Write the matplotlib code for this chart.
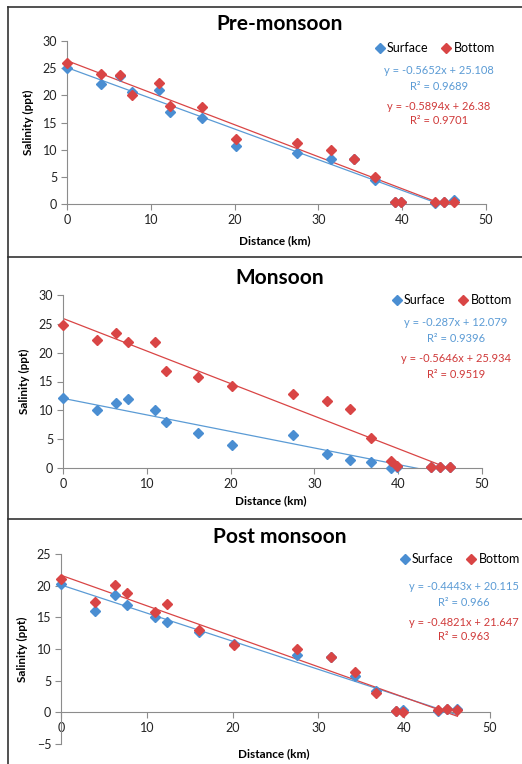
import matplotlib
matplotlib.use("Agg")
import matplotlib.pyplot as plt
import numpy as np
from matplotlib.lines import Line2D

plt.rcParams['font.family'] = ['Lato', 'DejaVu Sans']

W, H = 522, 764

distance = [0, 4, 6.3, 7.7, 11, 12.3, 16.1, 20.2, 27.5, 31.5, 34.3, 36.7, 39.1, 39.9, 43.9, 45.0, 46.2]

pre_surface = [25.0, 22.0, 23.6, 20.7, 20.9, 16.9, 15.8, 10.6, 9.3, 8.3, 8.2, 4.5, 0.4, 0.4, 0.2, 0.3, 0.8]
pre_bottom = [26.0, 24.0, 23.7, 20.1, 22.2, 18.1, 17.8, 12.0, 11.3, 9.9, 8.3, 5.0, 0.4, 0.4, 0.4, 0.3, 0.4]

mon_surface = [12.1, 10.1, 11.2, 12.0, 10.0, 8.0, 6.0, 4.0, 5.8, 2.5, 1.4, 1.1, 0.0, 0.2, 0.1, 0.1, 0.1]
mon_bottom = [24.8, 22.2, 23.4, 21.8, 21.8, 16.9, 15.7, 14.2, 12.9, 11.7, 10.3, 5.2, 1.3, 0.4, 0.1, 0.1, 0.1]

post_surface = [20.3, 16.0, 18.5, 17.0, 15.1, 14.2, 12.7, 10.8, 9.1, 8.7, 5.7, 3.4, 0.2, 0.4, 0.2, 0.5, 0.6]
post_bottom = [21.1, 17.4, 20.1, 18.8, 15.8, 17.1, 13.0, 10.7, 10.0, 8.7, 6.3, 3.0, 0.2, 0.1, 0.3, 0.5, 0.4]

# trendline (slope, intercept, r2) as printed on the chart
fits = {
    "Pre-monsoon": [(-0.5652, 25.108, "0.9689"), (-0.5894, 26.38, "0.9701")],
    "Monsoon": [(-0.287, 12.079, "0.9396"), (-0.5646, 25.934, "0.9519")],
    "Post monsoon": [(-0.4443, 20.115, "0.966"), (-0.4821, 21.647, "0.963")],
}

blue = "#4A8ED2"
red = "#D94545"
blue_txt = "#5B9BD5"
red_txt = "#D03A3A"

panels = [
    # title, surface, bottom, axes px (l, r, top, bottom), ylim, yticks, title y, legend y, eq x, eq y, ylabel x, xlabel y
    ("Pre-monsoon", pre_surface, pre_bottom, (67, 486, 41, 204), (0, 30), range(0, 31, 5), 24, 48, 439, 70, 28, 241),
    ("Monsoon", mon_surface, mon_bottom, (63, 482, 295, 468), (0, 30), range(0, 31, 5), 278, 300, 456, 323, 24, 501),
    ("Post monsoon", post_surface, post_bottom, (61, 490, 554, 744), (-5, 25), range(-5, 26, 5), 537, 559, 464, 586, 22, 754),
]

fig = plt.figure(figsize=(W / 100, H / 100), dpi=100)

# panel frames
for y in [7, 257, 519]:
    fig.add_artist(Line2D([8 / W, 1], [1 - y / H, 1 - y / H], color="#333333", lw=1.2))
fig.add_artist(Line2D([8 / W, 8 / W], [0, 1 - 7 / H], color="#333333", lw=1.2))

x = np.array(distance)
for (title, surf, bott, box, ylim, yticks, ty, ly, ex, ey, ylx, xly) in panels:
    l, r, t, b = box
    ax = fig.add_axes([l / W, 1 - b / H, (r - l) / W, (b - t) / H])
    ax.set_xlim(0, 50)
    ax.set_ylim(*ylim)
    ax.set_xticks(range(0, 51, 10))
    ax.set_yticks(list(yticks))
    for s in ["top", "right"]:
        ax.spines[s].set_visible(False)
    for s in ["left", "bottom"]:
        ax.spines[s].set_color("#8C8C8C")
        ax.spines[s].set_linewidth(0.8)
    ax.spines["bottom"].set_position(("data", 0))
    ax.tick_params(axis="both", direction="out", length=4, width=0.8, color="#8C8C8C",
                   labelsize=9, labelcolor="#222222", pad=3)

    xs = np.linspace(0, max(distance), 50)
    (s1, i1, r1), (s2, i2, r2) = fits[title]
    ax.plot(xs, s1 * xs + i1, color=blue_txt, lw=0.9, zorder=2)
    ax.plot(xs, s2 * xs + i2, color=red, lw=0.9, zorder=2)
    ax.plot(x, surf, "D", ms=5.4, color=blue, mec=blue, clip_on=False, zorder=3)
    ax.plot(x, bott, "D", ms=5.4, color=red, mec=red, clip_on=False, zorder=4)

    fig.text(0.535, 1 - ty / H, title, ha="center", va="center", fontsize=15, fontweight="bold")
    fig.text(ylx / W, 1 - ((t + b) / 2) / H, "Salinity (ppt)", rotation=90, ha="center", va="center",
             fontsize=8.5, fontweight="bold")
    fig.text(((l + r) / 2 - 2) / W, 1 - xly / H, "Distance (km)", ha="center", va="center",
             fontsize=8.5, fontweight="bold")

    handles = [Line2D([], [], marker="D", ls="", ms=5, color=blue, label="Surface"),
               Line2D([], [], marker="D", ls="", ms=5, color=red, label="Bottom")]
    fig.legend(handles=handles, loc="center right", bbox_to_anchor=((ex + 56) / W, 1 - ly / H),
               ncol=2, frameon=False, fontsize=9, handletextpad=0.1, columnspacing=0.9,
               handlelength=1.0, borderpad=0, borderaxespad=0)

    def eq(sl, ic):
        return "y = %sx + %s" % (("%g" % sl), ("%g" % ic))

    fig.text(ex / W, 1 - ey / H, eq(s1, i1), color=blue_txt, ha="center", va="center", fontsize=8)
    fig.text(ex / W, 1 - (ey + 16) / H, "R² = " + r1, color=blue_txt, ha="center", va="center", fontsize=8)
    fig.text(ex / W, 1 - (ey + 36) / H, eq(s2, i2), color=red_txt, ha="center", va="center", fontsize=8)
    fig.text(ex / W, 1 - (ey + 51) / H, "R² = " + r2, color=red_txt, ha="center", va="center", fontsize=8)

fig.savefig("out.png", dpi=100)
